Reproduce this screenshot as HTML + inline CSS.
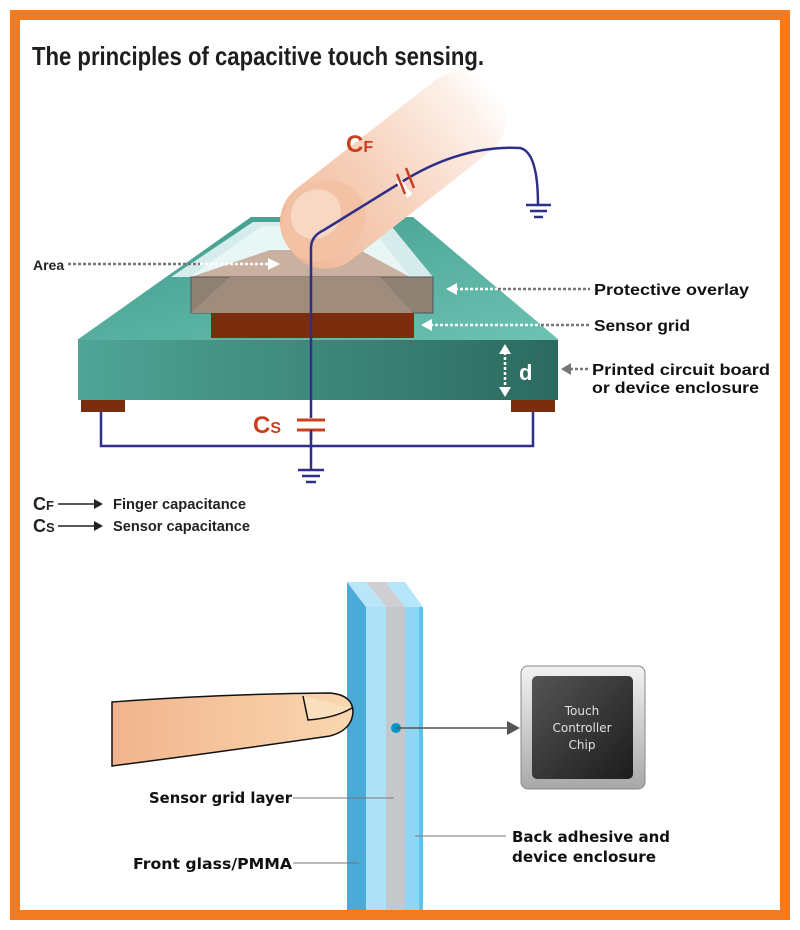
<!DOCTYPE html>
<html><head><meta charset="utf-8"><style>
html,body{margin:0;padding:0;background:#fff;}
svg{display:block;}
</style></head><body>
<svg width="800" height="930" viewBox="0 0 800 930" xmlns="http://www.w3.org/2000/svg">
<defs>
<linearGradient id="front" x1="0" y1="0" x2="1" y2="0">
<stop offset="0" stop-color="#4fa596"/><stop offset="1" stop-color="#2c6a5f"/></linearGradient>
<linearGradient id="top" x1="0" y1="0" x2="1" y2="1">
<stop offset="0" stop-color="#3f9a8a"/><stop offset="1" stop-color="#6cc2b3"/></linearGradient>
<linearGradient id="fing" x1="0" y1="0" x2="1" y2="0">
<stop offset="0" stop-color="#f0b898"/><stop offset="0.45" stop-color="#f7d2bd"/><stop offset="0.85" stop-color="#fdf0e8"/><stop offset="1" stop-color="#ffffff"/></linearGradient>
<linearGradient id="fing2" x1="0" y1="0" x2="1" y2="0">
<stop offset="0" stop-color="#f1b48d"/><stop offset="1" stop-color="#fad7b0"/></linearGradient>
<linearGradient id="chipo" x1="0" y1="0" x2="0" y2="1">
<stop offset="0" stop-color="#f2f2f2"/><stop offset="1" stop-color="#a8a8a8"/></linearGradient>
<linearGradient id="chipi" x1="0" y1="0" x2="1" y2="1">
<stop offset="0" stop-color="#555"/><stop offset="1" stop-color="#1c1c1c"/></linearGradient>
</defs>
<rect x="0" y="0" width="800" height="930" fill="#fff"/>
<rect x="15" y="15" width="770" height="900" fill="none" stroke="#f47a20" stroke-width="10"/>

<text x="32" y="65" font-family="Liberation Sans Narrow, Liberation Sans, sans-serif" font-weight="bold" font-size="26" fill="#1e1e1e" textLength="452" lengthAdjust="spacingAndGlyphs">The principles of capacitive touch sensing.</text>

<!-- board -->
<polygon points="251,217 413,217 559,340 77,340" fill="url(#top)"/>
<rect x="78" y="340" width="480" height="60" fill="url(#front)"/>
<rect x="81" y="400" width="44" height="12" fill="#7a2e0e"/>
<rect x="511" y="400" width="44" height="12" fill="#7a2e0e"/>
<!-- overlay -->
<polygon points="253,222 388,222 433,277 171,277" fill="#d6ecec"/>
<polygon points="262,226 370,226 410,277 190,277" fill="#e8f6f6"/>
<polygon points="270,250 360,250 410,277 191,277" fill="#c9b0a0"/>
<rect x="191" y="277" width="242" height="36" fill="#8f8074" stroke="#555" stroke-width="1"/>
<polygon points="191,313 230,277 380,277 413,313" fill="#a08c7d"/>
<rect x="211" y="313" width="203" height="25" fill="#7a2e0e"/>
<!-- finger -->
<g transform="rotate(-38 322 222)">
<rect x="280" y="180" width="260" height="90" rx="42" fill="url(#fing)"/>
<ellipse cx="324" cy="222" rx="44" ry="38" fill="#f3c2a4"/>
<ellipse cx="322" cy="212" rx="26" ry="24" fill="#f8d7c3"/>
</g>
<!-- wires -->
<path d="M311,440 L311,248 Q311,236 324,230 L400,183 Q460,145 520,148 Q538,152 538,205" fill="none" stroke="#2e2f86" stroke-width="2.5"/>
<line x1="398" y1="180" x2="410" y2="196" stroke="#fff" stroke-width="6"/>
<line x1="397" y1="174" x2="405" y2="194" stroke="#c8401e" stroke-width="2.5"/>
<line x1="406" y1="168" x2="414" y2="188" stroke="#c8401e" stroke-width="2.5"/>
<line x1="526" y1="205" x2="551" y2="205" stroke="#2e2f86" stroke-width="2.5"/>
<line x1="530" y1="211" x2="547" y2="211" stroke="#2e2f86" stroke-width="2.5"/>
<line x1="534" y1="217" x2="543" y2="217" stroke="#2e2f86" stroke-width="2.5"/>
<line x1="311" y1="418" x2="311" y2="432" stroke="#fff" stroke-width="4"/>
<line x1="297" y1="420" x2="325" y2="420" stroke="#c8401e" stroke-width="3"/>
<line x1="297" y1="430" x2="325" y2="430" stroke="#c8401e" stroke-width="3"/>
<line x1="311" y1="430" x2="311" y2="470" stroke="#2e2f86" stroke-width="2.5"/>
<line x1="298" y1="470" x2="324" y2="470" stroke="#2e2f86" stroke-width="2.5"/>
<line x1="302" y1="476" x2="320" y2="476" stroke="#2e2f86" stroke-width="2.5"/>
<line x1="306" y1="482" x2="316" y2="482" stroke="#2e2f86" stroke-width="2.5"/>
<polyline points="101,412 101,446 533,446 533,412" fill="none" stroke="#2e2f86" stroke-width="2.5"/>
<text x="346" y="152" font-family="Liberation Sans Narrow, Liberation Sans, sans-serif" font-weight="bold" font-size="24" fill="#c8401e">C<tspan font-size="16">F</tspan></text>
<text x="253" y="433" font-family="Liberation Sans Narrow, Liberation Sans, sans-serif" font-weight="bold" font-size="24" fill="#c8401e">C<tspan font-size="16">S</tspan></text>
<!-- dotted arrows -->
<text x="33" y="270" font-family="Liberation Sans Narrow, Liberation Sans, sans-serif" font-weight="bold" font-size="14" fill="#222">Area</text>
<line x1="68" y1="264" x2="200" y2="264" stroke="#777" stroke-width="2.5" stroke-dasharray="3,2"/>
<line x1="200" y1="264" x2="270" y2="264" stroke="#fff" stroke-width="2.5" stroke-dasharray="3,2"/>
<polygon points="268,258 280,264 268,270" fill="#fff"/>
<line x1="498" y1="289" x2="590" y2="289" stroke="#777" stroke-width="2.5" stroke-dasharray="3,2"/>
<line x1="455" y1="289" x2="498" y2="289" stroke="#fff" stroke-width="2.5" stroke-dasharray="3,2"/>
<polygon points="457,283 446,289 457,295" fill="#fff"/>
<line x1="541" y1="325" x2="590" y2="325" stroke="#777" stroke-width="2.5" stroke-dasharray="3,2"/>
<line x1="430" y1="325" x2="541" y2="325" stroke="#fff" stroke-width="2.5" stroke-dasharray="3,2"/>
<polygon points="432,319 421,325 432,331" fill="#fff"/>
<line x1="570" y1="369" x2="588" y2="369" stroke="#777" stroke-width="2.5" stroke-dasharray="3,2"/>
<polygon points="571,363 561,369 571,375" fill="#777"/>
<line x1="505" y1="352" x2="505" y2="389" stroke="#fff" stroke-width="2.5" stroke-dasharray="3,2"/>
<polygon points="499,354 505,344 511,354" fill="#fff"/>
<polygon points="499,387 505,397 511,387" fill="#fff"/>
<text x="519" y="380" font-family="Liberation Sans, sans-serif" font-weight="bold" font-size="22" fill="#fff">d</text>
<g font-family="Liberation Sans, DejaVu Sans, sans-serif" font-weight="bold" font-size="16" fill="#111">
<text x="594" y="295" textLength="155" lengthAdjust="spacingAndGlyphs">Protective overlay</text>
<text x="594" y="331" textLength="96" lengthAdjust="spacingAndGlyphs">Sensor grid</text>
<text x="592" y="375" textLength="178" lengthAdjust="spacingAndGlyphs">Printed circuit board</text>
<text x="592" y="393" textLength="167" lengthAdjust="spacingAndGlyphs">or device enclosure</text>
</g>
<!-- legend -->
<g font-family="Liberation Sans Narrow, Liberation Sans, sans-serif" font-weight="bold" fill="#222">
<text x="33" y="510" font-size="18">C<tspan font-size="13">F</tspan></text>
<text x="33" y="532" font-size="18">C<tspan font-size="13">S</tspan></text>
<text x="113" y="509" font-size="15" textLength="133" lengthAdjust="spacingAndGlyphs">Finger capacitance</text>
<text x="113" y="531" font-size="15" textLength="137" lengthAdjust="spacingAndGlyphs">Sensor capacitance</text>
</g>
<line x1="58" y1="504" x2="96" y2="504" stroke="#222" stroke-width="1.5"/>
<polygon points="94,499 103,504 94,509" fill="#222"/>
<line x1="58" y1="526" x2="96" y2="526" stroke="#222" stroke-width="1.5"/>
<polygon points="94,521 103,526 94,531" fill="#222"/>

<!-- bottom panel -->
<polygon points="347,582 366,607 366,910 347,910" fill="#4aaad8"/>
<polygon points="347,582 366,582 386,607 366,607" fill="#b9e6f8"/>
<polygon points="366,582 386,582 405,607 386,607" fill="#cfcfd3"/>
<polygon points="386,582 405,582 423,607 405,607" fill="#b5e6fa"/>
<rect x="366" y="607" width="20" height="303" fill="#aee0f6"/>
<rect x="386" y="607" width="19" height="303" fill="#c6c7cb"/>
<rect x="405" y="607" width="18" height="303" fill="#8fd6f4"/>
<rect x="419" y="607" width="4" height="303" fill="#5cc4ee"/>
<!-- finger 2 -->
<path d="M112,702 Q220,694 330,693 Q353,695 353,712 Q352,730 330,736 Q220,752 112,766 Z" fill="url(#fing2)" stroke="#111" stroke-width="1.5"/>
<path d="M303,696 L308,720 Q335,718 352,708" fill="#fbe0c0" stroke="#111" stroke-width="1.5"/>
<circle cx="396" cy="728" r="5" fill="#0096c7"/>
<line x1="396" y1="728" x2="508" y2="728" stroke="#555" stroke-width="1.5"/>
<polygon points="507,721 520,728 507,735" fill="#555"/>
<rect x="521" y="666" width="124" height="123" rx="7" fill="url(#chipo)" stroke="#888" stroke-width="1"/>
<rect x="532" y="676" width="101" height="103" rx="5" fill="url(#chipi)"/>
<g font-family="DejaVu Sans, Liberation Sans, sans-serif" font-size="12" fill="#e0e0e0" text-anchor="middle">
<text x="582" y="715">Touch</text>
<text x="582" y="732">Controller</text>
<text x="582" y="749">Chip</text>
</g>
<g font-family="DejaVu Sans, Liberation Sans, sans-serif" font-weight="bold" font-size="15" fill="#111">
<text x="149" y="803" textLength="143" lengthAdjust="spacingAndGlyphs">Sensor grid layer</text>
<text x="133" y="869" textLength="159" lengthAdjust="spacingAndGlyphs">Front glass/PMMA</text>
<text x="512" y="842" textLength="158" lengthAdjust="spacingAndGlyphs">Back adhesive and</text>
<text x="512" y="862" textLength="144" lengthAdjust="spacingAndGlyphs">device enclosure</text>
</g>
<line x1="293" y1="798" x2="394" y2="798" stroke="#777" stroke-width="1"/>
<line x1="293" y1="863" x2="359" y2="863" stroke="#777" stroke-width="1"/>
<line x1="415" y1="836" x2="506" y2="836" stroke="#777" stroke-width="1"/>
</svg>
</body></html>
